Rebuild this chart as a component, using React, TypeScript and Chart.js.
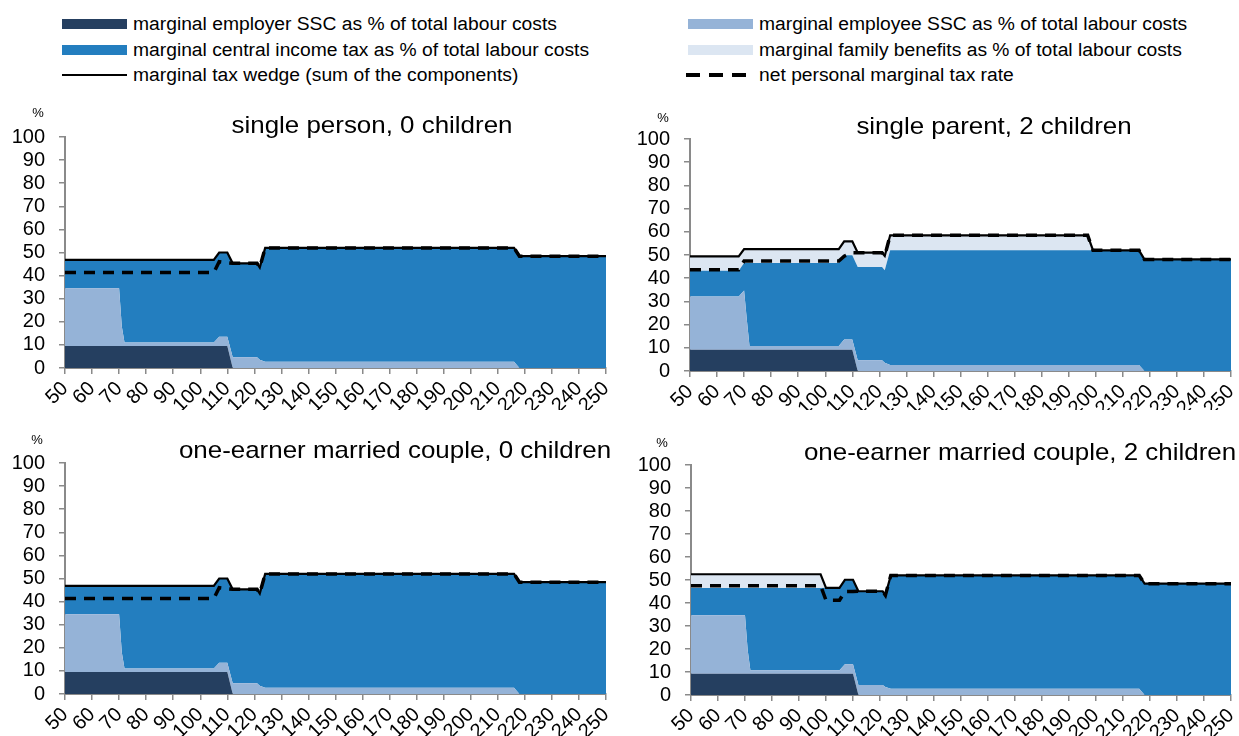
import React, { useEffect, useRef } from "react";
import { Chart, registerables } from "chart.js";

Chart.register(...registerables);

// ---- Data -------------------------------------------------------------
// Gross earnings as % of average wage (break points of the schedules)
const X = [50, 68, 70, 71, 72, 98, 100, 105, 107, 110, 112, 121, 122, 124, 197, 199, 216, 218, 250];

// single person, 0 children
const p1Employer = [9.5, 9.5, 9.5, 9.5, 9.5, 9.5, 9.5, 9.5, 9.5, 9.5, 0, 0, 0, 0, 0, 0, 0, 0, 0];
const p1Employee = [25, 25, 25, 8.5, 1.5, 1.5, 1.5, 1.5, 4, 4, 4.6, 4.6, 3.6, 2.7, 2.7, 2.7, 2.7, 0, 0];
const p1Income = [12.3, 12.3, 12.3, 28.8, 35.8, 35.8, 35.8, 35.8, 36.5, 36.5, 40.7, 40.7, 39.9, 49.3, 49.3, 49.3, 49.3, 48.4, 48.4];
const p1Family = [0, 0, 0, 0, 0, 0, 0, 0, 0, 0, 0, 0, 0, 0, 0, 0, 0, 0, 0];
const p1Wedge = [46.8, 46.8, 46.8, 46.8, 46.8, 46.8, 46.8, 46.8, 50, 50, 45.3, 45.3, 43.5, 52, 52, 52, 52, 48.4, 48.4];
const p1Net = [41.3, 41.3, 41.3, 41.3, 41.3, 41.3, 41.3, 41.3, 46, 45.5, 45.3, 45.3, 43.5, 52, 52, 52, 52, 48.4, 48.4];

// single parent, 2 children
const p2Employer = [9.2, 9.2, 9.2, 9.2, 9.2, 9.2, 9.2, 9.2, 9.2, 9.2, 0, 0, 0, 0, 0, 0, 0, 0, 0];
const p2Employee = [22.9, 22.9, 25.5, 13, 1.6, 1.6, 1.6, 1.6, 4.4, 4.4, 4.6, 4.6, 3.6, 2.6, 2.6, 2.6, 2.6, 0, 0];
const p2Income = [11.1, 11.1, 11.8, 24.3, 35.7, 35.7, 35.7, 35.7, 36.3, 36.3, 40.2, 40.2, 39.8, 49.4, 49.4, 49.4, 49.4, 48.1, 48.1];
const p2Family = [6.2, 6.2, 6, 6, 6, 6, 6, 6, 6, 6, 6.2, 6.2, 6.2, 6.5, 6.5, 0, 0, 0, 0];
const p2Wedge = [49.4, 49.4, 52.5, 52.5, 52.5, 52.5, 52.5, 52.5, 55.9, 55.9, 51, 51, 49.6, 58.5, 58.5, 52, 52, 48.1, 48.1];
const p2Net = [43.6, 43.6, 47.4, 47.4, 47.4, 47.4, 47.4, 47.4, 49.5, 51, 51, 51, 49.6, 58.5, 58.5, 52, 52, 48.1, 48.1];

// one-earner married couple, 0 children
const p3Employer = [9.5, 9.5, 9.5, 9.5, 9.5, 9.5, 9.5, 9.5, 9.5, 9.5, 0, 0, 0, 0, 0, 0, 0, 0, 0];
const p3Employee = [25, 25, 25, 8.5, 1.5, 1.5, 1.5, 1.5, 4, 4, 4.6, 4.6, 3.6, 2.7, 2.7, 2.7, 2.7, 0, 0];
const p3Income = [12.3, 12.3, 12.3, 28.8, 35.8, 35.8, 35.8, 35.8, 36.5, 36.5, 40.7, 40.7, 39.9, 49.3, 49.3, 49.3, 49.3, 48.4, 48.4];
const p3Family = [0, 0, 0, 0, 0, 0, 0, 0, 0, 0, 0, 0, 0, 0, 0, 0, 0, 0, 0];
const p3Wedge = [46.8, 46.8, 46.8, 46.8, 46.8, 46.8, 46.8, 46.8, 50, 50, 45.3, 45.3, 43.5, 52, 52, 52, 52, 48.4, 48.4];
const p3Net = [41.3, 41.3, 41.3, 41.3, 41.3, 41.3, 41.3, 41.3, 46, 45.5, 45.3, 45.3, 43.5, 52, 52, 52, 52, 48.4, 48.4];

// one-earner married couple, 2 children
const p4Employer = [9.2, 9.2, 9.2, 9.2, 9.2, 9.2, 9.2, 9.2, 9.2, 9.2, 0, 0, 0, 0, 0, 0, 0, 0, 0];
const p4Employee = [25.5, 25.5, 25.5, 10.3, 1.6, 1.6, 1.6, 1.6, 4.2, 4.2, 4.3, 4.3, 3.5, 2.7, 2.7, 2.7, 2.7, 0, 0];
const p4Income = [11.8, 11.8, 11.8, 27, 35.7, 35.7, 35.8, 35.8, 36.7, 36.7, 40.8, 40.8, 39.9, 49.3, 49.3, 49.3, 49.3, 48.4, 48.4];
const p4Family = [6, 6, 6, 6, 6, 6, 0, 0, 0, 0, 0, 0, 0, 0, 0, 0, 0, 0, 0];
const p4Wedge = [52.5, 52.5, 52.5, 52.5, 52.5, 52.5, 46.6, 46.6, 50.1, 50.1, 45.1, 45.1, 43.4, 52, 52, 52, 52, 48.4, 48.4];
const p4Net = [47.5, 47.5, 47.5, 47.5, 47.5, 47.5, 41.2, 41.2, 45, 45, 45.1, 45.1, 43.4, 52, 52, 52, 52, 48.4, 48.4];

const TITLES = [
  "single person, 0 children",
  "single parent, 2 children",
  "one-earner married couple, 0 children",
  "one-earner married couple, 2 children",
];

const LEGEND_LABELS = [
  "marginal employer SSC as % of total labour costs",
  "marginal employee SSC as % of total labour costs",
  "marginal central income tax as % of total labour costs",
  "marginal family benefits as % of total labour costs",
  "marginal tax wedge (sum of the components)",
  "net personal marginal tax rate",
];

// ---- Styles -----------------------------------------------------------
const C_EMPLOYER = "#253F60";
const C_INCOME = "#237EBF";
const C_EMPLOYEE = "#95B3D7";
const C_FAMILY = "#DCE6F2";
const AXIS = "#8a8a8a";
const FONT = '"Liberation Sans", Arial, sans-serif';

type PanelCfg = {
  title: string;
  employer: number[];
  employee: number[];
  income: number[];
  family: number[];
  wedge: number[];
  net: number[];
  left: number;
  top: number;
  w: number;
  h: number;
  padTop: number;
  padRight: number;
  yW: number;
  xH: number;
  titleX: number;
  titleY: number;
  pctX: number;
  pctY: number;
};

const PANELS: PanelCfg[] = [
  {
    title: TITLES[0], employer: p1Employer, employee: p1Employee, income: p1Income, family: p1Family, wedge: p1Wedge, net: p1Net,
    left: 0, top: 95, w: 620, h: 315, padTop: 42, padRight: 14, yW: 65, xH: 42,
    titleX: 372, titleY: 38, pctX: 38, pctY: 18,
  },
  {
    title: TITLES[1], employer: p2Employer, employee: p2Employee, income: p2Income, family: p2Family, wedge: p2Wedge, net: p2Net,
    left: 620, top: 95, w: 619, h: 315, padTop: 44, padRight: 8, yW: 70, xH: 39,
    titleX: 374, titleY: 39, pctX: 43, pctY: 23,
  },
  {
    title: TITLES[2], employer: p3Employer, employee: p3Employee, income: p3Income, family: p3Family, wedge: p3Wedge, net: p3Net,
    left: 0, top: 425, w: 620, h: 311, padTop: 38, padRight: 14, yW: 65, xH: 42,
    titleX: 395, titleY: 33, pctX: 37, pctY: 15,
  },
  {
    title: TITLES[3], employer: p4Employer, employee: p4Employee, income: p4Income, family: p4Family, wedge: p4Wedge, net: p4Net,
    left: 620, top: 425, w: 619, h: 311, padTop: 40, padRight: 8, yW: 71, xH: 41,
    titleX: 400, titleY: 35, pctX: 42, pctY: 18,
  },
];

const pts = (ys: number[]) => X.map((x, i) => ({ x, y: ys[i] }));
const add = (a: number[], b: number[]) => a.map((v, i) => v + b[i]);

function Panel({ cfg }: { cfg: PanelCfg }) {
  const ref = useRef<HTMLCanvasElement | null>(null);
  useEffect(() => {
    if (!ref.current) return;
    const cum1 = cfg.employer;
    const cum2 = add(cum1, cfg.employee);
    const cum3 = add(cum2, cfg.income);
    const cum4 = add(cum3, cfg.family);
    const textPlugin = {
      id: "panelText",
      afterDraw(chart: any) {
        const ctx = chart.ctx;
        ctx.save();
        ctx.fillStyle = "#000";
        ctx.textAlign = "center";
        ctx.textBaseline = "alphabetic";
        ctx.font = `24px ${FONT}`;
        ctx.translate(cfg.titleX, cfg.titleY);
        ctx.scale(1.08, 1);
        ctx.fillText(cfg.title, 0, 0);
        ctx.restore();
        ctx.save();
        ctx.fillStyle = "#000";
        ctx.textAlign = "center";
        ctx.textBaseline = "middle";
        ctx.font = `13px ${FONT}`;
        ctx.fillText("%", cfg.pctX, cfg.pctY);
        ctx.restore();
      },
    };
    const area = (data: number[], color: string, fill: any) => ({
      data: pts(data),
      backgroundColor: color,
      borderColor: "rgba(0,0,0,0)",
      borderWidth: 0,
      pointRadius: 0,
      fill,
    });
    const chart = new Chart(ref.current, {
      type: "line",
      data: {
        datasets: [
          {
            data: pts(cfg.net),
            borderColor: "#000",
            borderWidth: 3.5,
            borderDash: [11, 8],
            pointRadius: 0,
            fill: false,
          },
          {
            data: pts(cfg.wedge),
            borderColor: "#000",
            borderWidth: 2.2,
            pointRadius: 0,
            fill: false,
          },
          area(cum1, C_EMPLOYER, "origin"),
          area(cum2, C_EMPLOYEE, 2),
          area(cum3, C_INCOME, 3),
          area(cum4, C_FAMILY, 4),
        ] as any,
      },
      options: {
        animation: false,
        responsive: false,
        maintainAspectRatio: false,
        devicePixelRatio: 1,
        events: [],
        layout: { padding: { top: cfg.padTop, right: cfg.padRight, left: 0, bottom: 0 } },
        elements: { line: { tension: 0 }, point: { radius: 0 } },
        plugins: {
          legend: { display: false },
          tooltip: { enabled: false },
          filler: { drawTime: "beforeDatasetsDraw" },
        } as any,
        scales: {
          x: {
            type: "linear",
            min: 50,
            max: 250,
            ticks: {
              stepSize: 10,
              autoSkip: false,
              maxRotation: 45,
              minRotation: 45,
              color: "#000",
              padding: 3,
              font: { family: FONT, size: 20 },
            },
            grid: { display: true, drawOnChartArea: false, tickLength: 6, color: AXIS, lineWidth: 1.5 },
            border: { color: AXIS, width: 2 },
            afterFit: (s: any) => {
              s.height = cfg.xH;
              s.paddingRight = 0;
              s.paddingLeft = 0;
            },
          },
          y: {
            min: 0,
            max: 100,
            ticks: {
              stepSize: 10,
              autoSkip: false,
              color: "#000",
              padding: 14,
              font: { family: FONT, size: 20 },
            },
            grid: { display: true, drawOnChartArea: false, tickLength: 6, color: AXIS, lineWidth: 1.5 },
            border: { color: AXIS, width: 2 },
            afterFit: (s: any) => {
              s.width = cfg.yW;
              s.paddingTop = 0;
              s.paddingBottom = 0;
            },
          },
        } as any,
      },
      plugins: [textPlugin],
    });
    return () => chart.destroy();
  }, [cfg]);
  return (
    <canvas
      ref={ref}
      width={cfg.w}
      height={cfg.h}
      style={{ position: "absolute", left: cfg.left, top: cfg.top, width: cfg.w, height: cfg.h }}
    />
  );
}

function LegendItem({ x, y, label, kind, color }: { x: number; y: number; label: string; kind: string; color?: string }) {
  let swatch: React.ReactNode;
  if (kind === "box") {
    swatch = <div style={{ position: "absolute", left: 0, top: -5, width: 65, height: 10, background: color }} />;
  } else if (kind === "line") {
    swatch = <div style={{ position: "absolute", left: 0, top: -1, width: 65, height: 2, background: "#000" }} />;
  } else {
    swatch = (
      <>
        {[0, 23, 46].map((o) => (
          <div key={o} style={{ position: "absolute", left: o - 2, top: -2, width: 14, height: 4, background: "#000" }} />
        ))}
      </>
    );
  }
  return (
    <div style={{ position: "absolute", left: x, top: y, height: 0 }}>
      {swatch}
      <div
        style={{
          position: "absolute",
          left: 71,
          top: -12,
          whiteSpace: "nowrap",
          fontFamily: FONT,
          fontSize: 18,
          lineHeight: "24px",
          color: "#000",
          transform: "scaleX(1.07)",
          transformOrigin: "left center",
        }}
      >
        {label}
      </div>
    </div>
  );
}

export default function App() {
  return (
    <div
      style={{
        position: "absolute",
        left: 0,
        top: 0,
        width: 1239,
        height: 736,
        background: "#fff",
        overflow: "hidden",
      }}
    >
      <LegendItem x={62} y={24} label={LEGEND_LABELS[0]} kind="box" color={C_EMPLOYER} />
      <LegendItem x={62} y={50} label={LEGEND_LABELS[2]} kind="box" color={C_INCOME} />
      <LegendItem x={62} y={75} label={LEGEND_LABELS[4]} kind="line" />
      <LegendItem x={688} y={24} label={LEGEND_LABELS[1]} kind="box" color={C_EMPLOYEE} />
      <LegendItem x={688} y={50} label={LEGEND_LABELS[3]} kind="box" color={C_FAMILY} />
      <LegendItem x={688} y={75} label={LEGEND_LABELS[5]} kind="dash" />
      {PANELS.map((p, i) => (
        <Panel key={i} cfg={p} />
      ))}
    </div>
  );
}
